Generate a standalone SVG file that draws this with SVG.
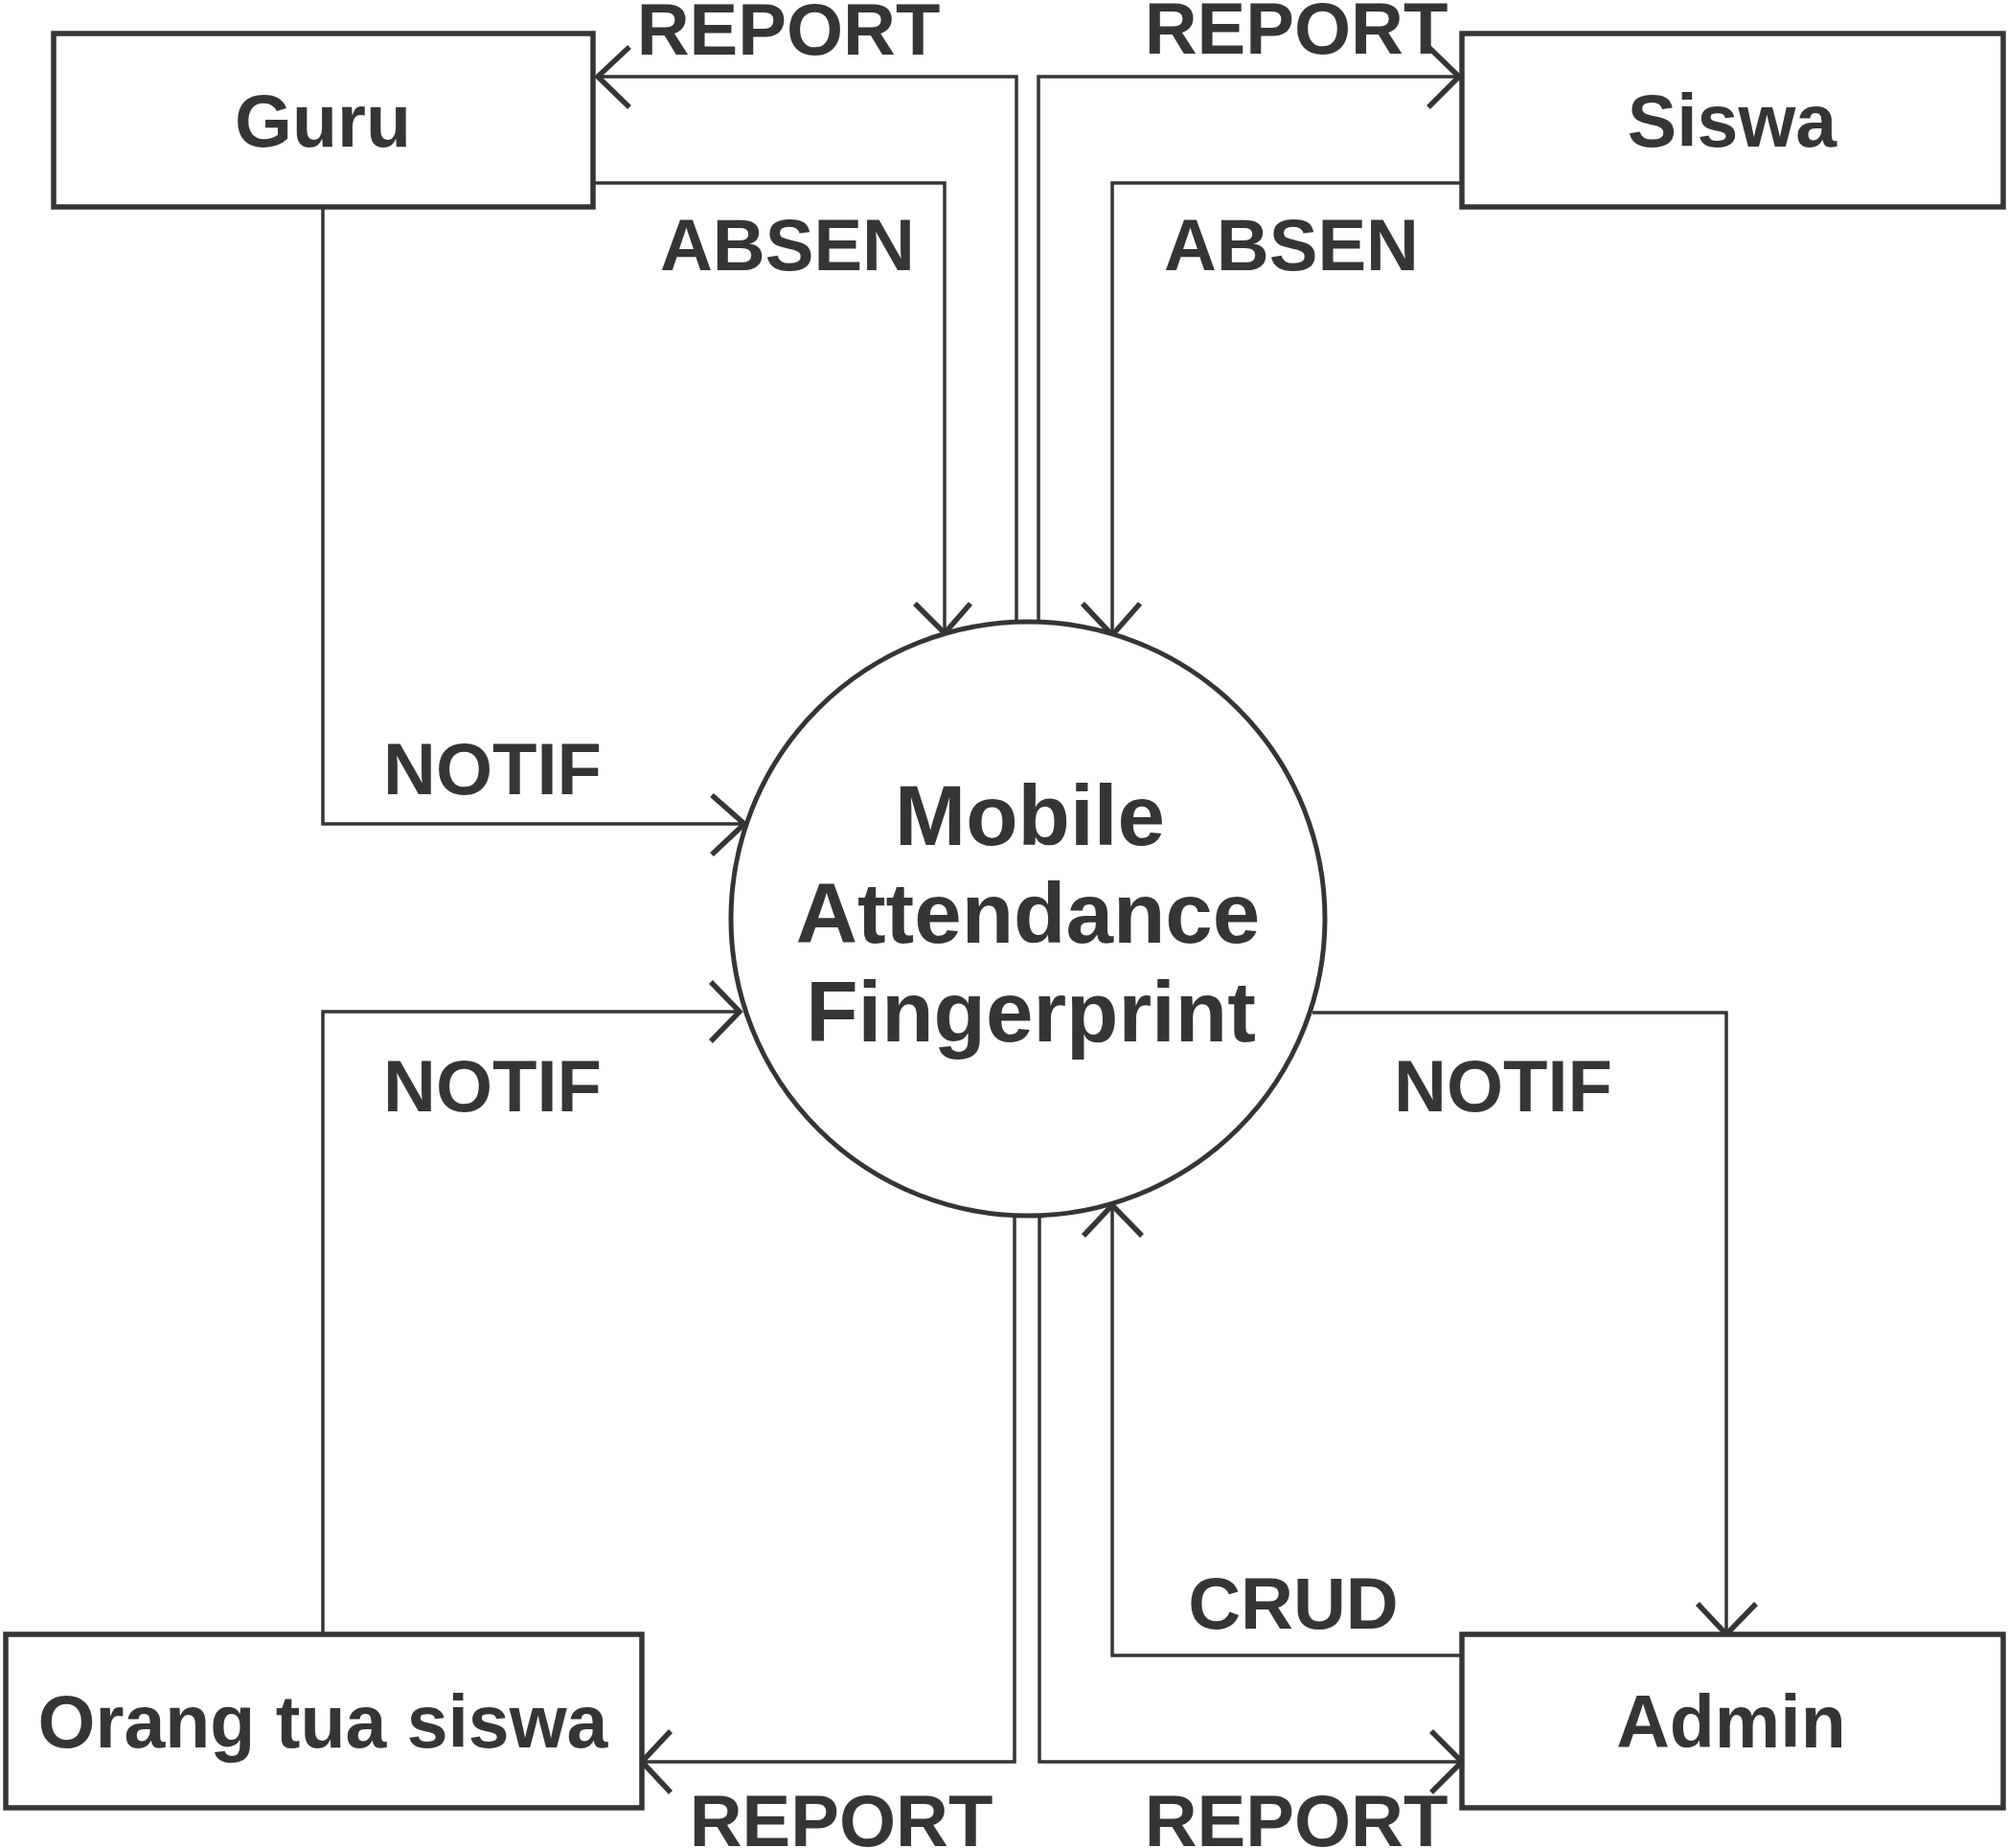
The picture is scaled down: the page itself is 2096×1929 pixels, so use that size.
<svg xmlns="http://www.w3.org/2000/svg" width="2096" height="1929" viewBox="0 0 2096 1929">
<style>
.box{fill:#fff;stroke:#363435;stroke-width:5.5}
.proc{fill:#fff;stroke:#363435;stroke-width:5}
.ln{fill:none;stroke:#363435;stroke-width:3.5}
.ah{fill:none;stroke:#363435;stroke-width:5.5}
text{font-family:"Liberation Sans",Arial,sans-serif;font-weight:bold;fill:#363435;text-anchor:middle}
.nt{font-size:77px}
.lb{font-size:76px}
.pt{font-size:89px}
</style>
<rect width="2096" height="1929" fill="#fff"/>
<g id="connectors">
<polyline class="ln" points="1061,649 1061,80 624,80"/>
<polyline class="ah" points="657,49 624,80 657,112"/>
<polyline class="ln" points="1084,649 1084,80 1523,80"/>
<polyline class="ah" points="1491,49 1523,80 1491,112"/>
<polyline class="ln" points="619,191 986,191 986,661"/>
<polyline class="ah" points="955,630 986,661 1013,630"/>
<polyline class="ln" points="1526,191 1161,191 1161,663"/>
<polyline class="ah" points="1130,630 1161,663 1190,630"/>
<polyline class="ln" points="337,216 337,860 777,860"/>
<polyline class="ah" points="743,830 777,860 743,892"/>
<polyline class="ln" points="337,1706 337,1056 772,1056"/>
<polyline class="ah" points="742,1025 772,1056 742,1087"/>
<polyline class="ln" points="1059,1269 1059,1839 670,1839"/>
<polyline class="ah" points="700,1807 670,1839 700,1871"/>
<polyline class="ln" points="1085,1269 1085,1839 1526,1839"/>
<polyline class="ah" points="1494,1807 1526,1839 1494,1871"/>
<polyline class="ln" points="1526,1728 1161,1728 1161,1258"/>
<polyline class="ah" points="1131,1290 1161,1258 1192,1290"/>
<polyline class="ln" points="1370,1057 1802,1057 1802,1706"/>
<polyline class="ah" points="1772,1674 1802,1706 1833,1674"/>
<text class="lb" x="823" y="57">REPORT</text>
<text class="lb" x="1353" y="56">REPORT</text>
<text class="lb" x="822" y="282">ABSEN</text>
<text class="lb" x="1348" y="282">ABSEN</text>
<text class="lb" x="514" y="829">NOTIF</text>
<text class="lb" x="514" y="1160">NOTIF</text>
<text class="lb" x="1569" y="1160">NOTIF</text>
<text class="lb" x="1350" y="1700">CRUD</text>
<text class="lb" x="878" y="1927">REPORT</text>
<text class="lb" x="1353" y="1927">REPORT</text>
</g>
<g id="guru">
<rect class="box" x="56" y="35" width="563" height="181"/>
<text class="nt" x="337" y="153">Guru</text>
</g>
<g id="siswa">
<rect class="box" x="1526" y="35" width="565" height="181"/>
<text class="nt" x="1808" y="153">Siswa</text>
</g>
<g id="orangtua">
<rect class="box" x="6" y="1706" width="664" height="181"/>
<text class="nt" x="337" y="1824">Orang tua siswa</text>
</g>
<g id="admin">
<rect class="box" x="1526" y="1706" width="565" height="181"/>
<text class="nt" x="1807" y="1824">Admin</text>
</g>
<g id="system">
<circle class="proc" cx="1073" cy="959" r="310"/>
<text class="pt" x="1075" y="882">Mobile</text>
<text class="pt" x="1073" y="984">Attendance</text>
<text class="pt" x="1076" y="1087">Fingerprint</text>
</g>
</svg>
